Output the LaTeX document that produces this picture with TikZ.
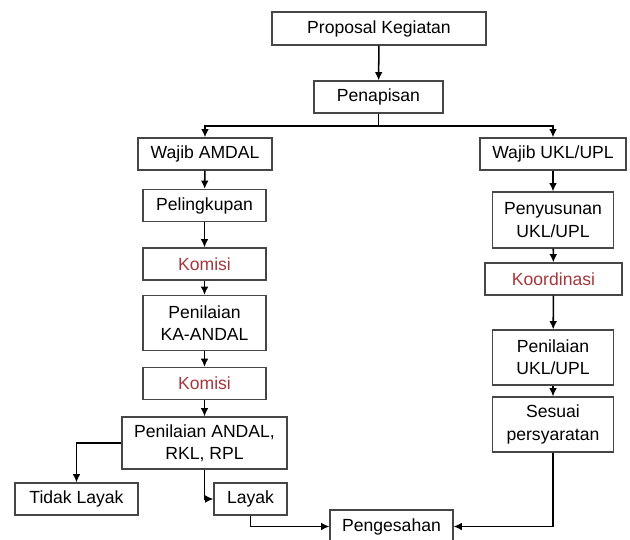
\documentclass[tikz,border=0pt]{standalone}
\usepackage{fontspec}
\setmainfont{Liberation Sans}
\usetikzlibrary{arrows.meta,positioning,calc}
\definecolor{komred}{RGB}{165,55,60}
\definecolor{boxline}{RGB}{70,70,70}
\begin{document}
\begin{tikzpicture}[>={Latex[length=7pt,width=6.5pt]},font=\fontsize{15}{19}\selectfont,x=1.000cm,y=1.000cm,
 box/.style={draw=boxline,line width=1pt,align=center,inner sep=1pt,minimum width=3.69cm,minimum height=0.96cm},
 tall/.style={box,minimum height=1.65cm},
 red/.style={text=komred},
 link/.style={->,line width=1.3pt}]
\useasboundingbox (0,0) rectangle (18.900,-16.200);
\node[box,minimum width=6.42cm,minimum height=0.99cm] (prop) at (11.370,-0.855) {Proposal Kegiatan};
\node[box,minimum width=3.87cm] (pena) at (11.355,-2.910) {Penapisan};
\node[box,minimum width=4.02cm] (wamdal) at (6.150,-4.620) {Wajib AMDAL};
\node[box,minimum width=4.38cm] (wukl) at (16.590,-4.620) {Wajib UKL/UPL};
\node[box] (pling) at (6.135,-6.165) {Pelingkupan};
\node[box,red] (kom1) at (6.135,-7.920) {Komisi};
\node[tall] (pka) at (6.135,-9.690) {Penilaian\\KA-ANDAL};
\node[box,red] (kom2) at (6.135,-11.505) {Komisi};
\node[tall,minimum width=4.95cm,minimum height=1.56cm] (pand) at (6.135,-13.290) {Penilaian ANDAL,\\RKL, RPL};
\node[box] (tidak) at (2.295,-14.970) {Tidak Layak};
\node[box,minimum width=2.19cm] (layak) at (7.515,-14.970) {Layak};
\node[box,minimum height=0.99cm] (peng) at (11.745,-15.795) {Pengesahan};
\node[tall,minimum width=3.63cm,minimum height=1.68cm] (pukl) at (16.590,-6.600) {Penyusunan\\UKL/UPL};
\node[box,red,minimum width=4.11cm] (koord) at (16.605,-8.370) {Koordinasi};
\node[tall,minimum width=3.63cm] (puklp) at (16.590,-10.725) {Penilaian\\UKL/UPL};
\node[tall,minimum width=3.63cm] (sesuai) at (16.590,-12.735) {Sesuai\\persyaratan};
\coordinate (bus) at ($(pena.south)+(0,-0.360)$);
\draw[link] (prop) -- (pena);
\draw[line width=1.6pt] (pena.south) -- (bus);
\draw[link,line width=1.6pt] (bus) -| (wamdal.north);
\draw[link,line width=1.6pt] (bus) -| (wukl.north);
\draw[link] (wamdal) -- (pling);
\draw[link] (pling) -- (kom1);
\draw[link] (kom1) -- (pka);
\draw[link] (pka) -- (kom2);
\draw[link] (kom2) -- (pand);
\draw[link] (pand.west) -| (tidak.north);
\draw[link] (pand.south) |- (layak.west);
\draw[link] (layak.south) |- (peng.west);
\draw[link] (wukl) -- (pukl);
\draw[link] (pukl) -- (koord);
\draw[link] (koord) -- (puklp);
\draw[link] (puklp) -- (sesuai);
\draw[link] (sesuai.south) |- (peng.east);
\end{tikzpicture}
\end{document}
